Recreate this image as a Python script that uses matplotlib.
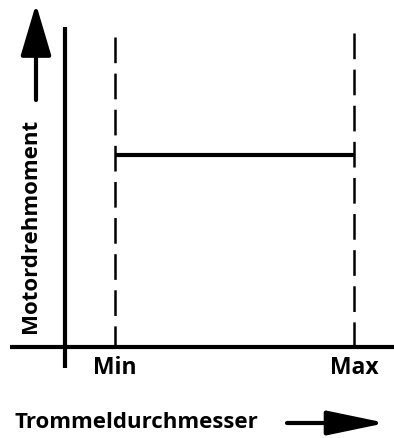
import matplotlib
matplotlib.use('Agg')
import matplotlib.pyplot as plt

plt.rcParams['lines.scale_dashes'] = False

# drum diameter limits (arbitrary units) and the constant motor torque
diam_labels = ['Min', 'Max']
diam_values = [0.21, 1.21]
torque_level = [0.6, 0.6]
limit_top = [0.97, 0.98]

W, H = 394, 438
fig = plt.figure(figsize=(W / 100, H / 100), dpi=100)
ax = fig.add_axes([0, 0, 1, 1])
# origin of the sketch sits at pixel (65, 347)
ax.set_xlim(-65 / 239, (W - 65) / 239)
ax.set_ylim((347 - H) / 320, 347 / 320)
ax.axis('off')


def px(x, y):
    return x / W, 1 - y / H


font = dict(family=['Open Sans', 'DejaVu Sans'], fontweight='bold', color='black')

# axis lines
ax.plot([-55 / 239, (W - 65) / 239], [0, 0], color='black', lw=3.0, solid_capstyle='butt')
ax.plot([0, 0], [1.0, -21 / 320], color='black', lw=3.0, solid_capstyle='butt')

# dashed limit lines
for xv, top in zip(diam_values, limit_top):
    ax.plot([xv, xv], [top, 0], color='black', lw=1.8, dashes=(18.5, 7.5))

# constant torque between min and max diameter
ax.plot(diam_values, torque_level, color='black', lw=3.0, solid_capstyle='butt')

# tick labels
for xv, lab in zip(diam_values, diam_labels):
    ax.text(xv, -21 / 320, lab, ha='center', va='center', fontsize=16.5, **font)

# axis titles with arrows
fig.text(*px(31, 226), 'Motordrehmoment', rotation=90, ha='center', va='center',
         fontsize=16, **font)
fig.text(*px(14, 423), 'Trommeldurchmesser', ha='left', va='center',
         fontsize=16, **font)

ax.annotate('', xy=px(36, 4), xytext=px(36, 100), xycoords='figure fraction',
            textcoords='figure fraction',
            arrowprops=dict(arrowstyle='-|>,head_length=32,head_width=9.5', mutation_scale=1,
                            color='black', lw=3.0, shrinkA=0, shrinkB=0))
ax.annotate('', xy=px(386, 423), xytext=px(287, 423), xycoords='figure fraction',
            textcoords='figure fraction',
            arrowprops=dict(arrowstyle='-|>,head_length=36,head_width=7.5', mutation_scale=1,
                            color='black', lw=3.0, shrinkA=0, shrinkB=0))

fig.savefig('out.png', dpi=100)
